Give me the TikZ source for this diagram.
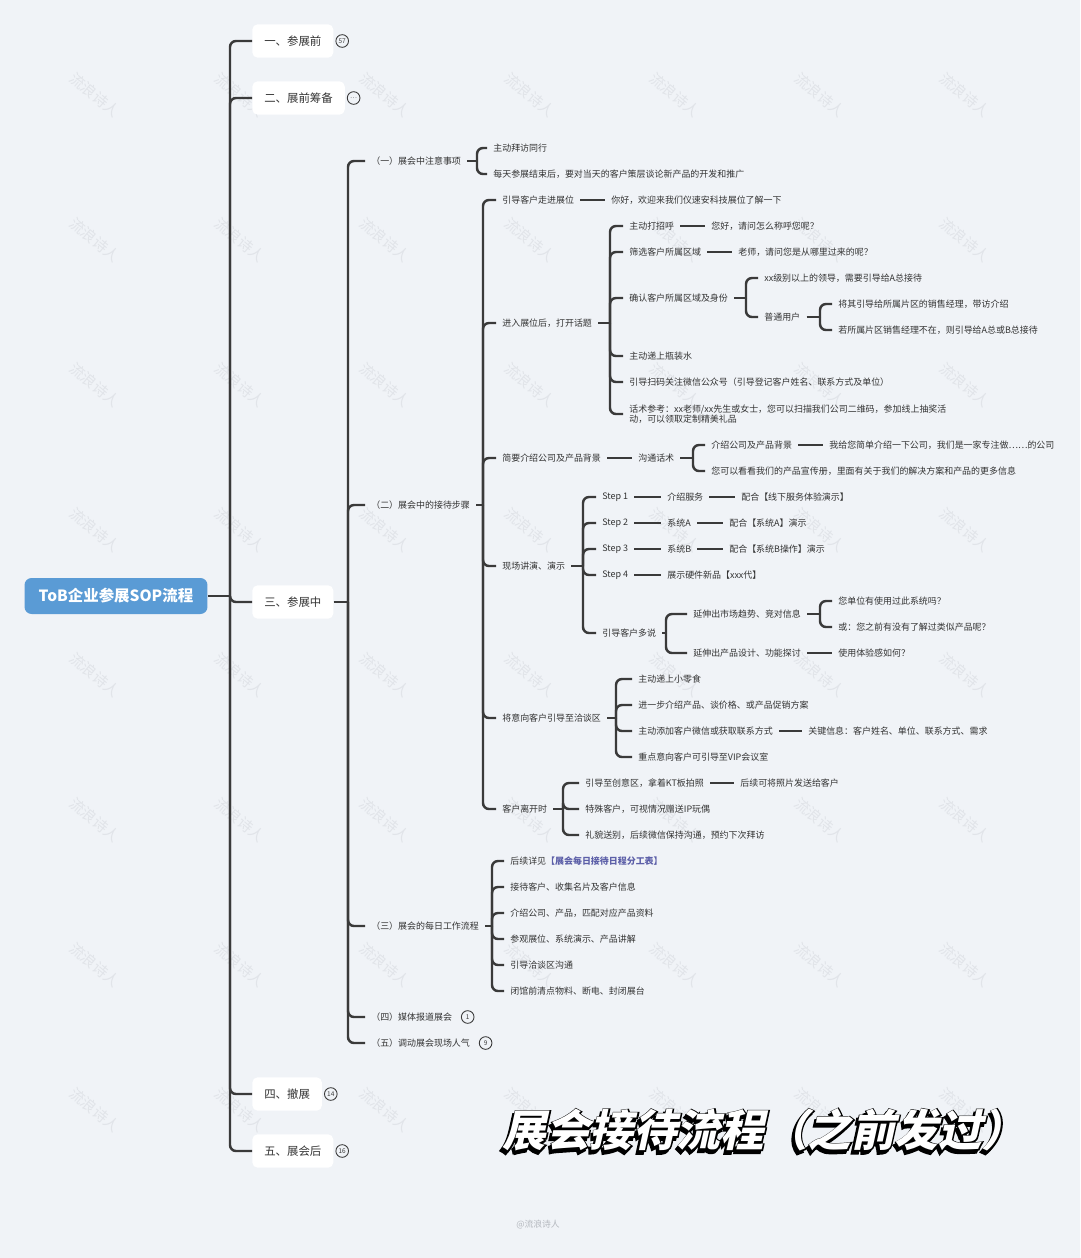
\documentclass[tikz,border=0pt]{standalone}
\usepackage{fontspec}
\setmainfont{Noto Sans CJK SC}
\newfontfamily\titlefont[FakeSlant=0.22]{Noto Sans CJK SC}
\newfontfamily\titleedge[FakeSlant=0.22, FakeBold=5]{Noto Sans CJK SC}
\usepackage{xcolor}
\usepackage{tikz}
\usetikzlibrary{positioning, calc}

\definecolor{bgc}{HTML}{F0F3F7}
\definecolor{linec}{HTML}{3A3A3A}
\definecolor{textc}{HTML}{333333}
\definecolor{rootc}{HTML}{5A9BD5}
\definecolor{linkc}{HTML}{5C5FA8}
\definecolor{wmc}{HTML}{E1E4E9}
\definecolor{signc}{HTML}{B4B8BE}

\begin{document}
\begin{tikzpicture}[x=0.02cm, y=-0.02cm,
  txt/.style={anchor=west, inner xsep=3.4pt, inner ysep=1pt, text=textc, font=\fontsize{5.1}{6}\selectfont},
  topic/.style={anchor=west, fill=white, rounded corners=3pt, inner xsep=6.8pt, minimum height=19pt, text=textc, font=\fontsize{6.5}{8}\selectfont},
  rootbox/.style={fill=rootc, rounded corners=4pt, text=white, minimum width=3.66cm, minimum height=0.72cm, font=\bfseries\fontsize{8.8}{10}\selectfont},
  conn/.style={draw=linec, line width=1.4pt, rounded corners=3.4pt},
  badge/.style={circle, draw=linec, line width=0.5pt, inner sep=0pt, minimum size=7.2pt, text=linec, font=\fontsize{3.7}{4}\selectfont},
  wmark/.style={rotate=-40, text=wmc, font=\fontsize{8.5}{9}\selectfont},
  ttl/.style={font=\titlefont\bfseries\fontsize{24.8}{26}\selectfont},
  ttledge/.style={font=\titleedge\bfseries\fontsize{24.8}{26}\selectfont}]
\useasboundingbox (0,0) rectangle (1080,1258);
\fill[bgc] (0,0) rectangle (1080,1258);
% Watermarks
\foreach \i in {0,...,6}
  \foreach \j in {0,...,7}
    \node[wmark] (wm-\i-\j) at ({95+145*\i},{95+145*\j}) {流浪诗人};

% Root and main topics
\node[rootbox] (root) at (116,596) {ToB企业参展SOP流程};
\node[topic] (t1) at (252,41) {一、参展前};
\node[topic] (t2) at (252,98) {二、展前筹备};
\node[topic] (t3) at (252,602) {三、参展中};
\node[topic] (t4) at (252,1094) {四、撤展};
\node[topic] (t5) at (252,1151) {五、展会后};
\node[badge, right=1pt of t1] (bd1) {57};
\node[badge, right=1pt of t2] (bd2) {…};
\node[badge, right=1pt of t4] (bd4) {14};
\node[badge, right=1pt of t5] (bd5) {16};
\coordinate (s0) at (230,596);
\draw[conn] (root.east) -- (s0);
\foreach \n in {t1,t2,t3,t4,t5} \draw[conn] (s0) |- (\n.west);

% 三、参展中
\node[txt] (a1) at (365,161) {（一）展会中注意事项};
\node[txt] (a2) at (365,505) {（二）展会中的接待步骤};
\node[txt] (a3) at (365,926) {（三）展会的每日工作流程};
\node[txt] (a4) at (365,1017) {（四）媒体报道展会};
\node[txt] (a5) at (365,1043) {（五）调动展会现场人气};
\node[badge, right=1.5pt of a4] (bda4) {1};
\node[badge, right=1.5pt of a5] (bda5) {9};
\coordinate (s3) at (348,602);
\draw[conn] (t3.east) -- (s3);
\foreach \n in {a1,a2,a3,a4,a5} \draw[conn] (s3) |- (\n.west);

% （一）
\node[txt] (b1) at (487,148) {主动拜访同行};
\node[txt] (b2) at (487,174) {每天参展结束后，要对当天的客户策层谈论新产品的开发和推广};
\coordinate (sa1) at (477,161);
\draw[conn] (a1.east) -- (sa1);
\foreach \n in {b1,b2} \draw[conn] (sa1) |- (\n.west);

% （二）
\node[txt] (c1) at (496,200) {引导客户走进展位};
\node[txt] (c1r) at (605,200) {你好，欢迎来我们仪速安科技展位了解一下};
\node[txt] (c2) at (496,323) {进入展位后，打开话题};
\node[txt] (c3) at (496,458) {简要介绍公司及产品背景};
\node[txt] (c4) at (496,566) {现场讲演、演示};
\node[txt] (c5) at (496,718) {将意向客户引导至洽谈区};
\node[txt] (c6) at (496,809) {客户离开时};
\coordinate (sa2) at (483,505);
\draw[conn] (a2.east) -- (sa2);
\foreach \n in {c1,c2,c3,c4,c5,c6} \draw[conn] (sa2) |- (\n.west);
\draw[conn] (c1.east) -- (c1r.west);

% 进入展位后
\node[txt] (d1) at (623,226) {主动打招呼};
\node[txt] (d1r) at (705,226) {您好，请问怎么称呼您呢？};
\node[txt] (d2) at (623,252) {筛选客户所属区域};
\node[txt] (d2r) at (732,252) {老师，请问您是从哪里过来的呢？};
\node[txt] (d3) at (623,298) {确认客户所属区域及身份};
\node[txt] (d4) at (623,356) {主动递上瓶装水};
\node[txt] (d5) at (623,382) {引导扫码关注微信公众号（引导登记客户姓名、联系方式及单位）};
\node[txt, align=left] (d6) at (623,414) {话术参考：xx老师/xx先生或女士，您可以扫描我们公司二维码，参加线上抽奖活\\动，可以领取定制精美礼品};
\coordinate (sc2) at (610,323);
\draw[conn] (c2.east) -- (sc2);
\foreach \n in {d1,d2,d3,d4,d5,d6} \draw[conn] (sc2) |- (\n.west);
\draw[conn] (d1.east) -- (d1r.west);
\draw[conn] (d2.east) -- (d2r.west);
\node[txt] (e1) at (758,278) {xx级别以上的领导，需要引导给A总接待};
\node[txt] (e2) at (758,317) {普通用户};
\coordinate (sd3) at (746,298);
\draw[conn] (d3.east) -- (sd3);
\foreach \n in {e1,e2} \draw[conn] (sd3) |- (\n.west);
\node[txt] (f1) at (832,304) {将其引导给所属片区的销售经理，带访介绍};
\node[txt] (f2) at (832,330) {若所属片区销售经理不在，则引导给A总或B总接待};
\coordinate (se2) at (820,317);
\draw[conn] (e2.east) -- (se2);
\foreach \n in {f1,f2} \draw[conn] (se2) |- (\n.west);

% 简要介绍
\node[txt] (c3r) at (632,458) {沟通话术};
\draw[conn] (c3.east) -- (c3r.west);
\node[txt] (g1) at (705,445) {介绍公司及产品背景};
\node[txt] (g1r) at (823,445) {我给您简单介绍一下公司，我们是一家专注做……的公司};
\node[txt] (g2) at (705,471) {您可以看看我们的产品宣传册，里面有关于我们的解决方案和产品的更多信息};
\coordinate (sc3) at (693,458);
\draw[conn] (c3r.east) -- (sc3);
\foreach \n in {g1,g2} \draw[conn] (sc3) |- (\n.west);
\draw[conn] (g1.east) -- (g1r.west);

% 现场讲演
\node[txt] (h1) at (596,497) {Step 1};
\node[txt] (h1a) at (661,497) {介绍服务};
\node[txt] (h1b) at (735,497) {配合【线下服务体验演示】};
\node[txt] (h2) at (596,523) {Step 2};
\node[txt] (h2a) at (661,523) {系统A};
\node[txt] (h2b) at (723,523) {配合【系统A】演示};
\node[txt] (h3) at (596,549) {Step 3};
\node[txt] (h3a) at (661,549) {系统B};
\node[txt] (h3b) at (723,549) {配合【系统B操作】演示};
\node[txt] (h4) at (596,575) {Step 4};
\node[txt] (h4a) at (661,575) {展示硬件新品【xxx代】};
\node[txt] (h5) at (596,633) {引导客户多说};
\coordinate (sc4) at (583,566);
\draw[conn] (c4.east) -- (sc4);
\foreach \n in {h1,h2,h3,h4,h5} \draw[conn] (sc4) |- (\n.west);
\foreach \p/\q in {h1/h1a,h1a/h1b,h2/h2a,h2a/h2b,h3/h3a,h3a/h3b,h4/h4a}
  \draw[conn] (\p.east) -- (\q.west);
\node[txt] (i1) at (687,614) {延伸出市场趋势、竞对信息};
\node[txt] (i2) at (687,653) {延伸出产品设计、功能探讨};
\node[txt] (i2r) at (832,653) {使用体验感如何？};
\coordinate (sh5) at (666,633);
\draw[conn] (h5.east) -- (sh5);
\foreach \n in {i1,i2} \draw[conn] (sh5) |- (\n.west);
\draw[conn] (i2.east) -- (i2r.west);
\node[txt] (j1) at (832,601) {您单位有使用过此系统吗？};
\node[txt] (j2) at (832,627) {或：您之前有没有了解过类似产品呢？};
\coordinate (si1) at (820,614);
\draw[conn] (i1.east) -- (si1);
\foreach \n in {j1,j2} \draw[conn] (si1) |- (\n.west);

% 洽谈区
\node[txt] (k1) at (632,679) {主动递上小零食};
\node[txt] (k2) at (632,705) {进一步介绍产品、谈价格、或产品促销方案};
\node[txt] (k3) at (632,731) {主动添加客户微信或获取联系方式};
\node[txt] (k3r) at (802,731) {关键信息：客户姓名、单位、联系方式、需求};
\node[txt] (k4) at (632,757) {重点意向客户可引导至VIP会议室};
\coordinate (sc5) at (616,718);
\draw[conn] (c5.east) -- (sc5);
\foreach \n in {k1,k2,k3,k4} \draw[conn] (sc5) |- (\n.west);
\draw[conn] (k3.east) -- (k3r.west);

% 客户离开时
\node[txt] (l1) at (579,783) {引导至创意区，拿着KT板拍照};
\node[txt] (l1r) at (734,783) {后续可将照片发送给客户};
\node[txt] (l2) at (579,809) {特殊客户，可视情况赠送IP玩偶};
\node[txt] (l3) at (579,835) {礼貌送别，后续微信保持沟通，预约下次拜访};
\coordinate (sc6) at (563,809);
\draw[conn] (c6.east) -- (sc6);
\foreach \n in {l1,l2,l3} \draw[conn] (sc6) |- (\n.west);
\draw[conn] (l1.east) -- (l1r.west);

% （三）
\node[txt] (m1) at (504,861) {后续详见{\color{linkc}\bfseries【展会每日接待日程分工表】}};
\node[txt] (m2) at (504,887) {接待客户、收集名片及客户信息};
\node[txt] (m3) at (504,913) {介绍公司、产品，匹配对应产品资料};
\node[txt] (m4) at (504,939) {参观展位、系统演示、产品讲解};
\node[txt] (m5) at (504,965) {引导洽谈区沟通};
\node[txt] (m6) at (504,991) {闭馆前清点物料、断电、封闭展台};
\coordinate (sa3) at (492,926);
\draw[conn] (a3.east) -- (sa3);
\foreach \n in {m1,m2,m3,m4,m5,m6} \draw[conn] (sa3) |- (\n.west);

% Title: shadow, outline, face
\node[ttledge, text=black] (ttlshadow) at (761.5,1133) {展会接待流程（之前发过）};
\node[ttledge, text=black] (ttledge) at (764,1130) {展会接待流程（之前发过）};
\node[ttl, text=white] (ttl) at (764,1130) {展会接待流程（之前发过）};

% Signature
\node[text=signc, font=\fontsize{5}{6}\selectfont] (sign) at (538,1225) {@流浪诗人};
\end{tikzpicture}
\end{document}
